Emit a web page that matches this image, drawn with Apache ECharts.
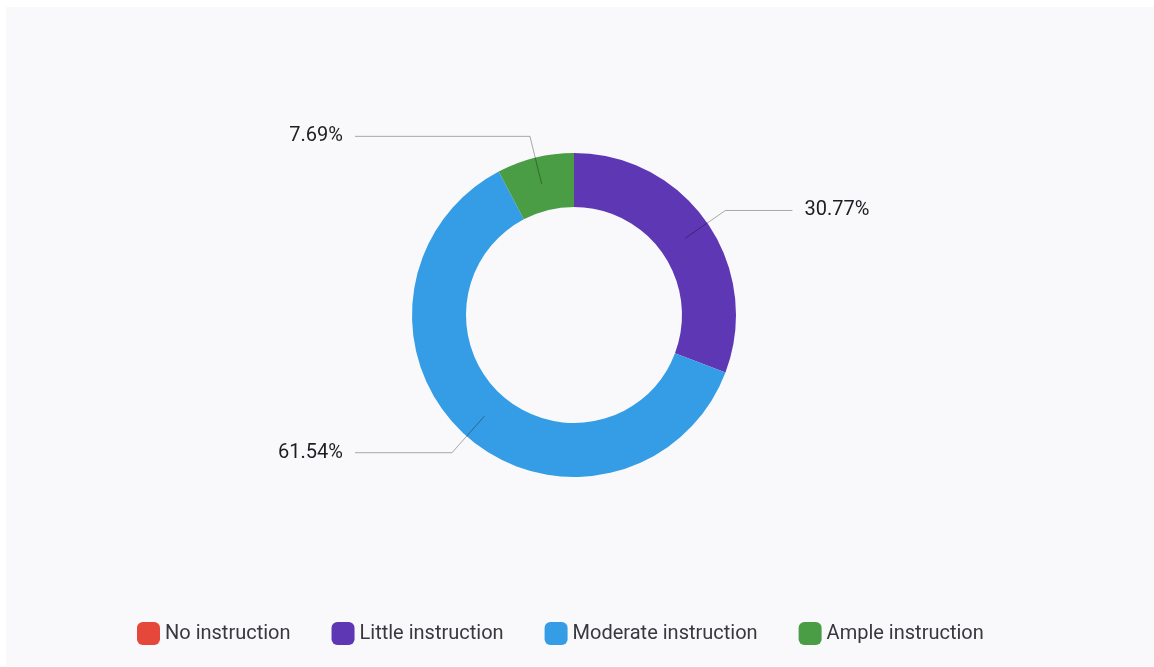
<!DOCTYPE html>
<html>
<head>
<meta charset="utf-8">
<script src="https://cdn.jsdelivr.net/npm/echarts@6/dist/echarts.min.js"></script>
<style>
html, body { margin: 0; padding: 0; background: #ffffff; }
#panel { position: absolute; left: 6px; top: 7px; width: 1148px; height: 659px; background: #f9f9fb; }
#chart { position: absolute; left: 0; top: 0; width: 1154px; height: 667px; }
</style>
</head>
<body>
<div id="panel"></div>
<div id="chart"></div>
<script>
// ---- data ----
const categories = ['No instruction', 'Little instruction', 'Moderate instruction', 'Ample instruction'];
const counts = [0, 4, 8, 1];

// ---- styles ----
const colors = ['#e5473b', '#5d37b4', '#359de5', '#4a9d45'];
const leaderHorizontal = [0, 67, 97, 175];

const ringData = categories.map((name, i) => ({
  name: name,
  value: counts[i],
  itemStyle: { color: colors[i] }
}));

const labelData = categories.map((name, i) => ({
  name: name,
  value: counts[i],
  itemStyle: { color: 'rgba(0,0,0,0)' },
  label: { show: counts[i] > 0 },
  labelLine: { show: counts[i] > 0, length: 49, length2: leaderHorizontal[i] }
}));

const chart = echarts.init(document.getElementById('chart'), null, { renderer: 'canvas' });
chart.setOption({
  backgroundColor: 'transparent',
  animation: false,
  color: colors,
  legend: {
    data: categories,
    left: 137,
    top: 622,
    padding: 0,
    icon: 'roundRect',
    itemWidth: 23,
    itemHeight: 23,
    itemGap: 41,
    textStyle: { fontFamily: 'Roboto', fontSize: 20, color: '#38383d' }
  },
  series: [
    {
      name: 'ring',
      type: 'pie',
      center: [574, 315],
      radius: [108, 162],
      clockwise: true,
      startAngle: 90,
      silent: true,
      avoidLabelOverlap: false,
      label: { show: false },
      labelLine: { show: false },
      emphasis: { disabled: true },
      data: ringData
    },
    {
      name: 'labels',
      type: 'pie',
      center: [574, 315],
      radius: [0, 135],
      clockwise: true,
      startAngle: 90,
      silent: true,
      z: 5,
      avoidLabelOverlap: false,
      emphasis: { disabled: true },
      label: {
        show: true,
        position: 'outside',
        formatter: '{d}%',
        distanceToLabelLine: 12,
        fontFamily: 'Roboto',
        fontSize: 20,
        color: '#1e1e22'
      },
      labelLine: {
        show: true,
        lineStyle: { color: 'rgba(0,0,0,0.33)', width: 1 }
      },
      data: labelData
    }
  ]
});
</script>
</body>
</html>
